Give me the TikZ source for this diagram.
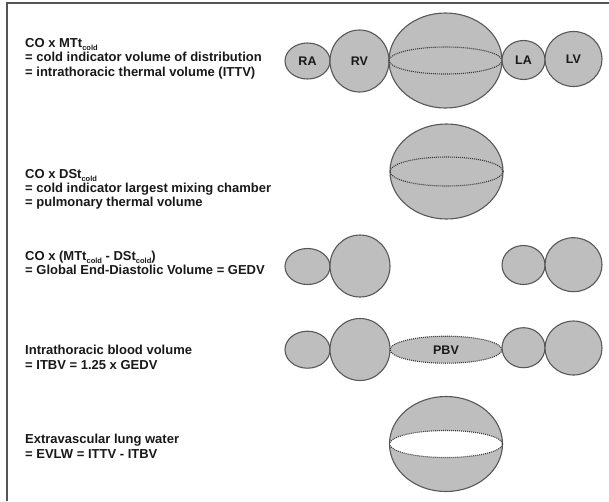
\documentclass[tikz,border=0pt]{standalone}
\usepackage{fontspec}
\setmainfont{Liberation Sans}
\usetikzlibrary{shapes.geometric}
\definecolor{chamberfill}{RGB}{190,190,190}
\definecolor{chamberedge}{RGB}{88,88,88}
\definecolor{dotcol}{RGB}{55,55,55}
\definecolor{framegray}{RGB}{85,85,85}
\definecolor{txtcol}{RGB}{25,25,25}
\newcommand{\sbcold}{\raisebox{-3.2pt}{\fontsize{7.5}{7.5}\selectfont cold}}
\tikzset{
  chamber/.style args={#1/#2}{ellipse, draw=chamberedge, fill=chamberfill, line width=1.1pt,
    minimum width=#1pt, minimum height=#2pt, inner sep=0pt,
    font=\fontsize{12.5}{13}\selectfont\bfseries, text=txtcol},
  innerdots/.style={draw=dotcol, line width=1.1pt, dash pattern=on 1pt off 1pt},
  txtline/.style={anchor=base west, inner sep=0pt, font=\fontsize{13}{14.5}\selectfont\bfseries, text=txtcol},
}
\begin{document}
\begin{tikzpicture}[x=1pt,y=-1pt]
\useasboundingbox[fill=white] (0,0) rectangle (609,501);
% frame
\coordinate (fbl) at (7,501);
\coordinate (ftl) at (7,3);
\coordinate (ftr) at (609,3);
\draw[framegray, line width=1.4pt] (fbl) -- (ftl) -- (ftr);

% ---- row 1 ----
\node[txtline] (t1a) at (25,47) {CO x MTt\sbcold};
\node[txtline] (t1b) at (25,61.5) {= cold indicator volume of distribution};
\node[txtline] (t1c) at (25,76) {= intrathoracic thermal volume (ITTV)};
\node[chamber=45/36] (ra1) at (307.5,61) {RA};
\node[chamber=59/62] (rv1) at (359.5,61) {RV};
\node[chamber=113/95] (lung1) at (445.5,60.5) {};
\draw[innerdots] (lung1.center) ellipse [x radius=56.5pt, y radius=13.5pt];
\node[chamber=43/39] (la1) at (523.5,60) {LA};
\node[chamber=57/55] (lv1) at (573.5,59) {LV};

% ---- row 2 ----
\node[txtline] (t2a) at (25,178) {CO x DSt\sbcold};
\node[txtline] (t2b) at (25,192) {= cold indicator largest mixing chamber};
\node[txtline] (t2c) at (25,206) {= pulmonary thermal volume};
\node[chamber=113/95] (lung2) at (446.5,171.5) {};
\draw[innerdots] (lung2.center) ellipse [x radius=56.5pt, y radius=14.5pt];

% ---- row 3 ----
\node[txtline] (t3a) at (25,260) {CO x (MTt\sbcold\ - DSt\sbcold)};
\node[txtline] (t3b) at (25,274.5) {= Global End-Diastolic Volume = GEDV};
\node[chamber=45/36] (ra3) at (307.5,266.5) {};
\node[chamber=60/62] (rv3) at (360,266) {};
\node[chamber=43/39] (la3) at (523.5,265) {};
\node[chamber=57/54] (lv3) at (573.5,264.7) {};

% ---- row 4 ----
\node[txtline] (t4a) at (25,354) {Intrathoracic blood volume};
\node[txtline] (t4b) at (25,369) {= ITBV = 1.25 x GEDV};
\node[chamber=45/37] (ra4) at (307.5,349.7) {};
\node[chamber=60/62] (rv4) at (360,349.5) {};
\node[ellipse, fill=chamberfill, innerdots, minimum width=112pt, minimum height=27pt, inner sep=0pt,
  font=\fontsize{12.5}{13}\selectfont\bfseries, text=txtcol] (pbv4) at (446,349.7) {PBV};
\node[chamber=43/40] (la4) at (523.5,347.7) {};
\node[chamber=57/54] (lv4) at (573.5,348) {};

% ---- row 5 ----
\node[txtline] (t5a) at (25,443) {Extravascular lung water};
\node[txtline] (t5b) at (25,458) {= EVLW = ITTV - ITBV};
\node[chamber=113/95] (lung5) at (446,444) {};
\draw[innerdots, fill=white] (lung5.center) ellipse [x radius=56.5pt, y radius=13.5pt];
\end{tikzpicture}
\end{document}
